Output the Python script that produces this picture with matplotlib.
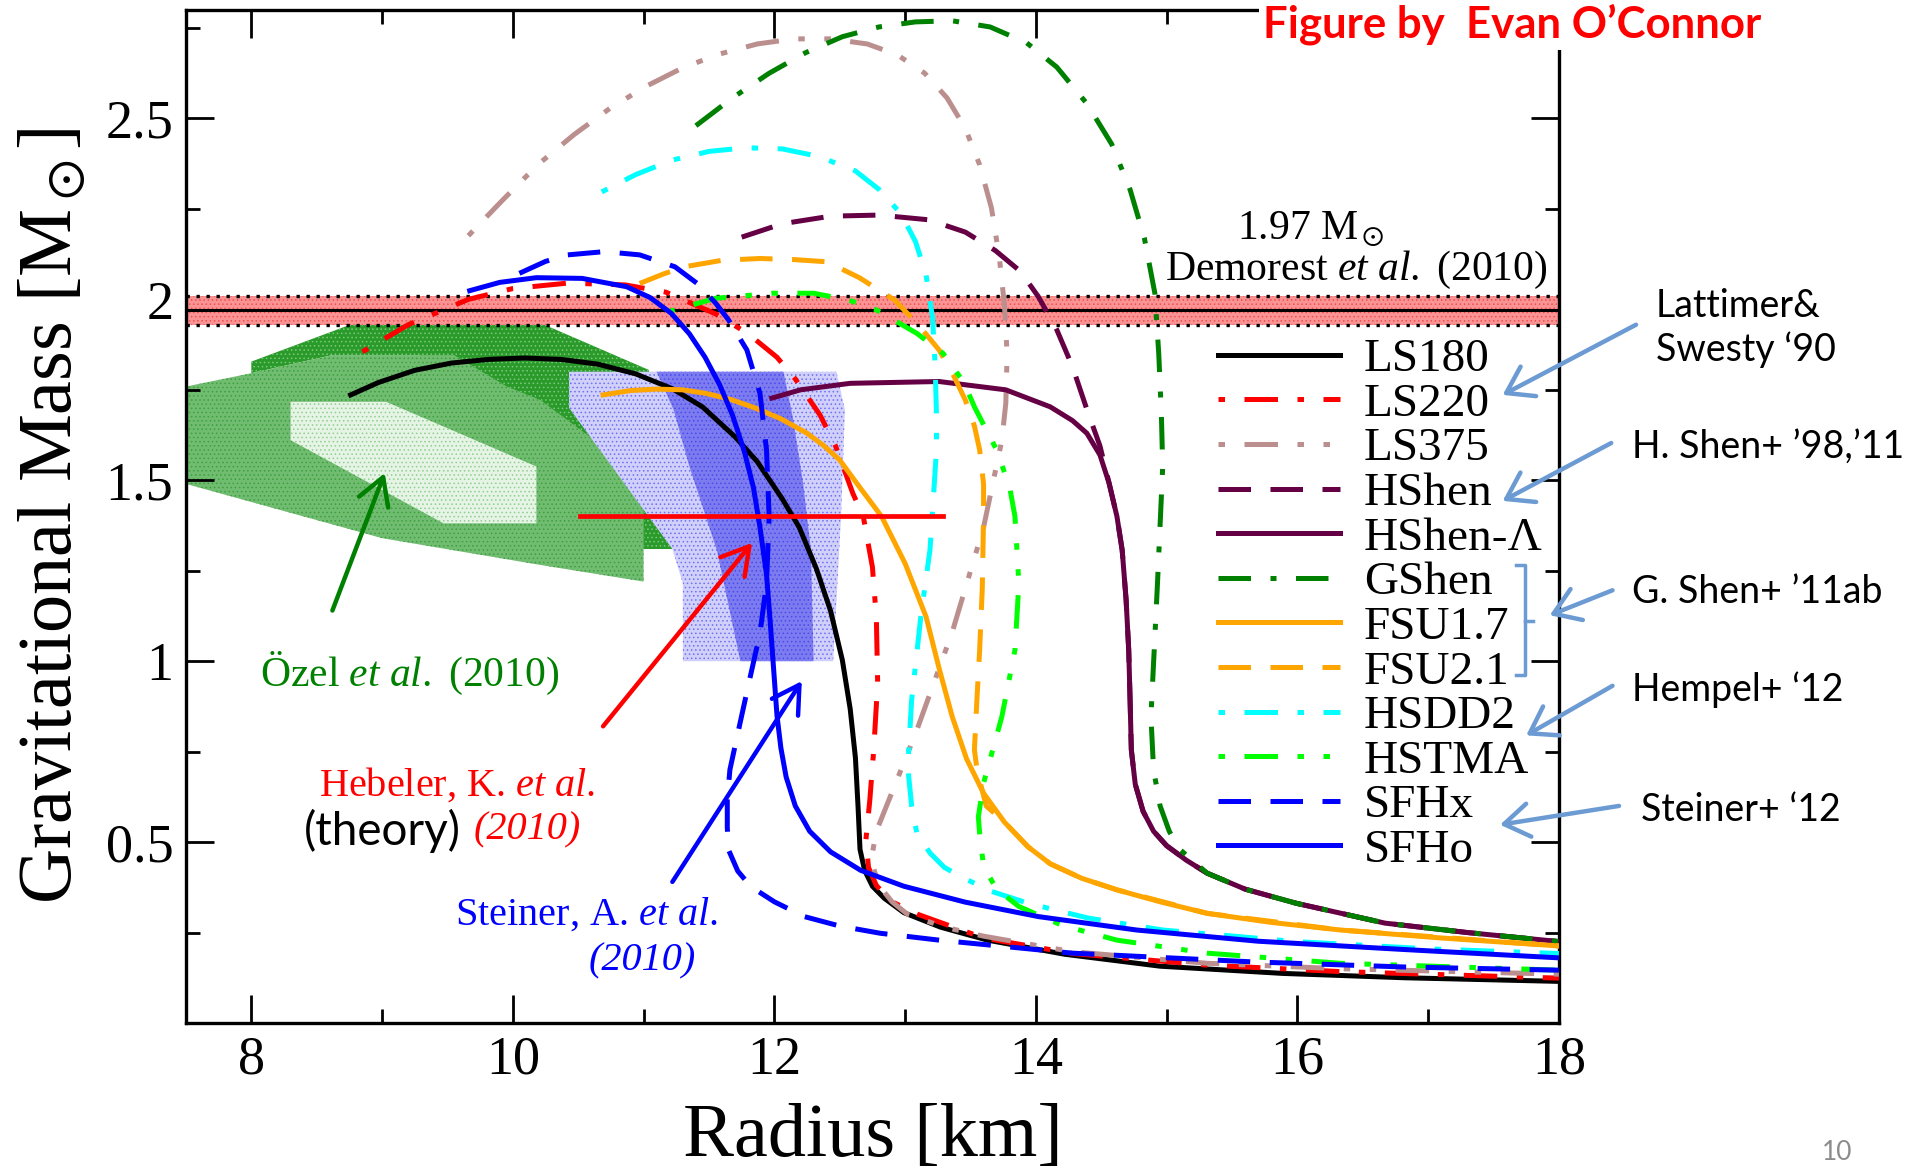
import matplotlib
matplotlib.use('Agg')
import matplotlib.pyplot as plt

plt.rcParams['font.family'] = ['Liberation Serif', 'DejaVu Serif']
plt.rcParams['mathtext.fontset'] = 'custom'
plt.rcParams['mathtext.rm'] = 'Liberation Serif'
plt.rcParams['mathtext.it'] = 'Liberation Serif:italic'
plt.rcParams['mathtext.bf'] = 'Liberation Serif:bold'
plt.rcParams['mathtext.fallback'] = 'stix'
plt.rcParams['hatch.linewidth'] = 0.6

# ---- mass-radius curves (R in km, M in solar masses) ----
ls180_R = [8.76, 8.97, 9.25, 9.53, 9.81, 10.09, 10.37, 10.65, 10.94, 11.22, 11.45, 11.70, 11.87, 12.06, 12.19,
           12.32, 12.43, 12.52, 12.58, 12.62, 12.64, 12.655, 12.69, 12.75, 12.84, 12.99, 13.27, 13.63, 14.22,
           14.95, 15.89, 16.82, 18.0]
ls180_M = [1.736, 1.770, 1.804, 1.824, 1.834, 1.838, 1.834, 1.821, 1.794, 1.753, 1.703, 1.62, 1.551, 1.449, 1.37,
           1.257, 1.139, 1.003, 0.868, 0.733, 0.598, 0.48, 0.422, 0.378, 0.345, 0.305, 0.265, 0.229, 0.19,
           0.157, 0.137, 0.125, 0.115]

ls220_R = [8.85, 9.2, 9.66, 10.0, 10.42, 10.86, 11.17, 11.55, 11.8, 12.02, 12.16, 12.35, 12.47, 12.6, 12.68, 12.75,
           12.78, 12.79, 12.76, 12.73, 12.70, 12.72, 12.78, 12.9, 13.1, 13.6, 14.28, 15.31, 16.33, 18.0]
ls220_M = [1.855, 1.93, 2.0, 2.03, 2.045, 2.04, 2.02, 1.96, 1.905, 1.84, 1.78, 1.68, 1.593, 1.464, 1.40, 1.26,
           1.12, 0.94, 0.755, 0.616, 0.506, 0.43, 0.38, 0.335, 0.30, 0.235, 0.192, 0.16, 0.142, 0.124]

ls375_R = [9.66, 9.91, 10.19, 10.47, 10.75, 11.03, 11.31, 11.59, 11.87, 12.15, 12.43, 12.71, 12.94, 13.15, 13.32,
           13.46, 13.57, 13.66, 13.72, 13.76, 13.78, 13.77, 13.74, 13.6, 13.36, 13.08, 12.88, 12.78, 12.74, 12.8,
           12.9, 13.02, 13.3, 13.6, 14.28, 15.31, 16.33, 18.0]
ls375_M = [2.176, 2.270, 2.372, 2.456, 2.530, 2.591, 2.642, 2.679, 2.706, 2.720, 2.720, 2.706, 2.676, 2.625, 2.557,
           2.473, 2.372, 2.253, 2.118, 1.983, 1.848, 1.713, 1.611, 1.37, 1.08, 0.80, 0.62, 0.53, 0.45, 0.38,
           0.335, 0.30, 0.265, 0.24, 0.197, 0.165, 0.15, 0.135]

hshen_R = [11.75, 12.06, 12.43, 12.80, 13.18, 13.46, 13.69, 13.88, 14.02, 14.16, 14.28, 14.39, 14.49, 14.56,
           14.62, 14.66, 14.69, 14.71, 14.72, 14.73, 14.76, 14.82, 14.9, 15.0, 15.15, 15.31, 15.6, 15.99, 16.67,
           17.3, 18.0]
hshen_M = [2.172, 2.209, 2.23, 2.233, 2.22, 2.186, 2.135, 2.078, 2.007, 1.916, 1.814, 1.696, 1.595, 1.492,
           1.40, 1.307, 1.17, 1.031, 0.9, 0.755, 0.66, 0.585, 0.53, 0.49, 0.45, 0.414, 0.37, 0.331, 0.276,
           0.25, 0.225]

hshenL_R = [11.98, 12.2, 12.58, 13.26, 13.77, 14.11, 14.28, 14.39, 14.49, 14.56, 14.62, 14.66, 14.69, 14.71,
            14.72, 14.73, 14.76, 14.82, 14.9, 15.0, 15.15, 15.31, 15.6, 15.99, 16.67, 17.3, 18.0]
hshenL_M = [1.727, 1.75, 1.768, 1.773, 1.75, 1.703, 1.665, 1.63, 1.57, 1.492, 1.40, 1.307, 1.17, 1.031,
            0.9, 0.755, 0.66, 0.585, 0.53, 0.49, 0.45, 0.414, 0.37, 0.331, 0.276, 0.25, 0.225]

gshen_R = [11.40, 11.68, 11.96, 12.24, 12.52, 12.80, 13.08, 13.36, 13.65, 13.93, 14.16, 14.39, 14.58, 14.72,
           14.83, 14.91, 14.94, 14.96, 14.97, 14.93, 14.88, 14.90, 14.95, 15.02, 15.10, 15.31, 15.6, 15.99,
           16.67, 17.3, 18.0]
gshen_M = [2.48, 2.557, 2.625, 2.682, 2.726, 2.753, 2.767, 2.770, 2.753, 2.709, 2.642, 2.541, 2.429, 2.304,
           2.169, 2.017, 1.848, 1.679, 1.538, 1.215, 0.847, 0.70, 0.60, 0.53, 0.48, 0.414, 0.37, 0.331,
           0.276, 0.25, 0.225]

fsu17_R = [10.69, 10.9, 11.10, 11.3, 11.48, 11.67, 11.86, 12.05, 12.25, 12.38, 12.50, 12.65, 12.82, 13.0, 13.16,
           13.26, 13.36, 13.47, 13.60, 13.76, 13.94, 14.11, 14.35, 14.62, 14.95, 15.31, 15.8, 16.33, 17.1, 18.0]
fsu17_M = [1.736, 1.748, 1.752, 1.75, 1.74, 1.723, 1.699, 1.67, 1.63, 1.595, 1.556, 1.482, 1.40, 1.27, 1.123,
           0.98, 0.847, 0.73, 0.635, 0.555, 0.487, 0.44, 0.40, 0.368, 0.335, 0.303, 0.278, 0.257, 0.235, 0.213]

fsu21_R = [10.97, 11.15, 11.31, 11.6, 11.89, 12.15, 12.40, 12.65, 12.92, 13.1, 13.26, 13.37, 13.46, 13.53, 13.57,
           13.60, 13.60, 13.59, 13.57, 13.55, 13.53, 13.55, 13.62, 13.76, 13.94, 14.11, 14.35, 14.62, 15.31,
           16.33, 18.0]
fsu21_M = [2.044, 2.07, 2.09, 2.108, 2.113, 2.11, 2.104, 2.06, 1.998, 1.93, 1.86, 1.79, 1.722, 1.65, 1.584,
           1.49, 1.40, 1.2, 1.031, 0.9, 0.755, 0.70, 0.60, 0.555, 0.487, 0.44, 0.40, 0.368, 0.303,
           0.257, 0.213]

hsdd2_R = [10.68, 10.94, 11.22, 11.50, 11.78, 12.06, 12.34, 12.62, 12.80, 12.97, 13.08, 13.16, 13.21, 13.23,
           13.24, 13.24, 13.19, 13.12, 13.05, 13.02, 13.05, 13.09, 13.19, 13.3, 13.43, 13.65, 13.94, 14.4,
           14.97, 15.99, 17.0, 18.0]
hsdd2_M = [2.297, 2.345, 2.385, 2.409, 2.419, 2.416, 2.395, 2.355, 2.304, 2.236, 2.159, 2.068, 1.949, 1.814,
           1.679, 1.584, 1.307, 1.123, 0.893, 0.708, 0.60, 0.524, 0.47, 0.43, 0.404, 0.365, 0.331, 0.29,
           0.257, 0.225, 0.205, 0.192]

hstma_R = [11.19, 11.55, 11.99, 12.30, 12.57, 12.78, 13.09, 13.29, 13.45, 13.53, 13.70, 13.80, 13.84, 13.87,
           13.84, 13.74, 13.60, 13.56, 13.57, 13.60, 13.7, 13.87, 14.2, 14.62, 15.31, 16.33, 18.0]
hstma_M = [1.966, 2.003, 2.017, 2.017, 1.998, 1.971, 1.906, 1.851, 1.77, 1.703, 1.584, 1.48, 1.40, 1.215,
           1.031, 0.847, 0.663, 0.57, 0.524, 0.432, 0.37, 0.322, 0.27, 0.229, 0.193, 0.165, 0.146]

sfhx_R = [10.05, 10.25, 10.42, 10.70, 10.97, 11.24, 11.41, 11.55, 11.65, 11.79, 11.89, 11.94, 11.96, 11.94,
          11.89, 11.81, 11.72, 11.66, 11.64, 11.64, 11.65, 11.72, 11.82, 12.0, 12.23, 12.5, 12.81, 13.26, 13.8,
          14.28, 15.65, 16.8, 18.0]
sfhx_M = [2.072, 2.105, 2.123, 2.132, 2.123, 2.09, 2.044, 1.99, 1.943, 1.86, 1.74, 1.584, 1.40, 1.215,
          1.077, 0.948, 0.80, 0.70, 0.616, 0.54, 0.478, 0.42, 0.377, 0.335, 0.294, 0.268, 0.248, 0.229, 0.21,
          0.193, 0.169, 0.155, 0.146]

sfho_R = [9.67, 9.9, 10.18, 10.53, 10.87, 11.05, 11.21, 11.35, 11.47, 11.58, 11.68, 11.77, 11.84, 11.89, 11.94,
          11.97, 12.0, 12.02, 12.05, 12.09, 12.16, 12.27, 12.43, 12.66, 12.99, 13.46, 14.02, 14.77, 15.70, 16.82,
          18.0]
sfho_M = [2.024, 2.047, 2.06, 2.058, 2.035, 2.005, 1.962, 1.905, 1.84, 1.765, 1.68, 1.58, 1.48, 1.37, 1.24,
          1.10, 0.95, 0.85, 0.76, 0.68, 0.60, 0.53, 0.473, 0.422, 0.378, 0.334, 0.294, 0.257, 0.226, 0.203,
          0.18]

# ---- observational / theoretical regions ----
ozel_dark_R = [8.0, 8.0, 9.09, 10.01, 11.04, 11.25, 11.22, 10.99, 10.99, 10.2, 9.28, 8.62, 8.0]
ozel_dark_M = [1.75, 1.828, 1.975, 1.966, 1.805, 1.5, 1.31, 1.31, 1.47, 1.72, 1.846, 1.846, 1.796]
ozel_mid_R = [7.5, 8.0, 8.62, 9.55, 9.95, 10.21, 10.59, 10.84, 11.0, 11.0, 10.21, 9.0, 7.5]
ozel_mid_M = [1.759, 1.796, 1.846, 1.846, 1.76, 1.722, 1.62, 1.556, 1.473, 1.22, 1.266, 1.34, 1.49]
ozel_in_R = [8.30, 9.03, 10.18, 10.18, 9.47, 8.30]
ozel_in_M = [1.717, 1.717, 1.538, 1.381, 1.381, 1.611]

steiner_out_R = [10.43, 12.475, 12.54, 12.51, 12.45, 11.30, 11.30, 11.22, 10.43]
steiner_out_M = [1.80, 1.80, 1.694, 1.40, 1.0, 1.0, 1.215, 1.31, 1.70]
steiner_in_R = [11.10, 12.07, 12.14, 12.22, 12.28, 12.30, 11.74, 11.56, 11.35, 11.23]
steiner_in_M = [1.80, 1.80, 1.676, 1.492, 1.307, 1.0, 1.0, 1.307, 1.538, 1.694]

hebeler_R = [10.51, 13.29]
hebeler_M = [1.40, 1.40]

demorest_M = 1.97
demorest_err = 0.04

# dash patterns (in units of line width)
dash = (0, (6.5, 3.9))
dotdash = (0, (1.3, 3.9, 6.7, 3.9))
dashdotdot = (0, (1.3, 3.9, 6.7, 3.9, 1.3, 3.9))
longdashdot = (0, (6.5, 3.9, 1.2, 3.9))

curves = [
    (ls180_R, ls180_M, 'LS180', 'black', '-'),
    (ls220_R, ls220_M, 'LS220', '#ff0000', dotdash),
    (ls375_R, ls375_M, 'LS375', '#bc8f8f', dashdotdot),
    (hshen_R, hshen_M, 'HShen', '#660044', dash),
    (hshenL_R, hshenL_M, 'HShen-Λ', '#660044', '-'),
    (gshen_R, gshen_M, 'GShen', '#008000', longdashdot),
    (fsu17_R, fsu17_M, 'FSU1.7', '#ffa500', '-'),
    (fsu21_R, fsu21_M, 'FSU2.1', '#ffa500', dash),
    (hsdd2_R, hsdd2_M, 'HSDD2', '#00ffff', dotdash),
    (hstma_R, hstma_M, 'HSTMA', '#00ff00', dashdotdot),
    (sfhx_R, sfhx_M, 'SFHx', '#0000ff', dash),
    (sfho_R, sfho_M, 'SFHo', '#0000ff', '-'),
]

fig = plt.figure(figsize=(19.17, 11.69), dpi=100)
ax = fig.add_axes([0.0970, 0.1249, 0.7162, 0.8666])

# shaded regions
ax.fill(ozel_dark_R, ozel_dark_M, facecolor='#2a9a2a', edgecolor='#7cc87c', hatch='....', lw=0, zorder=1)
ax.fill(ozel_mid_R, ozel_mid_M, facecolor='#70bc70', edgecolor='#3f9f3f', hatch='....', lw=0, zorder=1.1)
ax.fill(ozel_in_R, ozel_in_M, facecolor='#e6f4e6', edgecolor='#8fcf8f', hatch='....', lw=0, zorder=1.2)
ax.fill(steiner_out_R, steiner_out_M, facecolor='#d0d0fb', edgecolor='#7070f2', hatch='....', lw=0, zorder=1.3)
ax.fill(steiner_in_R, steiner_in_M, facecolor='#7c7cf0', edgecolor='#4a4aec', hatch='....', lw=0, zorder=1.4)

# Demorest et al. 1.97 +- 0.04
ax.axhspan(demorest_M - demorest_err, demorest_M + demorest_err, facecolor='#fa9494',
           edgecolor='#f05050', hatch='....', lw=0, zorder=2)
ax.axhline(demorest_M, color='black', lw=2.2, zorder=2.5)
for m in (demorest_M - demorest_err, demorest_M + demorest_err):
    ax.axhline(m, color='black', lw=2.4, ls=(0, (1, 2.0)), zorder=2.5)

for R, M, lab, col, ls in curves:
    ax.plot(R, M, color=col, ls=ls, lw=3.6, label=lab, zorder=3)

ax.plot(hebeler_R, hebeler_M, color='#ff0000', lw=3.4, zorder=3.5)

ax.set_xlim(7.5, 18)
ax.set_ylim(0, 2.8)
ax.set_xticks([8, 10, 12, 14, 16, 18])
ax.set_xticks([9, 11, 13, 15, 17], minor=True)
ax.set_yticks([0.5, 1, 1.5, 2, 2.5])
ax.set_yticklabels(['0.5', '1', '1.5', '2', '2.5'])
ax.set_yticks([0.25, 0.75, 1.25, 1.75, 2.25, 2.75], minor=True)
ax.tick_params(which='both', direction='in', top=True, right=True, width=2, labelsize=39, pad=9)
ax.tick_params(which='major', length=20)
ax.tick_params(which='minor', length=10)
for s in ax.spines.values():
    s.set_linewidth(2.4)

ax.set_xlabel('Radius [km]', fontsize=55)
ax.set_ylabel(r'Gravitational Mass [$\mathrm{M}_\odot$]', fontsize=55)
ax.xaxis.set_label_coords(0.5, -0.079)
ax.yaxis.set_label_coords(-0.071, 0.5)

ax.legend(loc='upper left', bbox_to_anchor=(0.752, 0.676), frameon=False, fontsize=34,
          handlelength=2.58, handletextpad=0.5, labelspacing=0.033, borderpad=0, borderaxespad=0)

arrow_kw = dict(shrinkA=0, shrinkB=0, mutation_scale=32, lw=3.2)

# annotations inside the axes
ax.text(9.21, 0.965, r'Özel $\mathit{et\ al.}$ (2010)', color='#008000', fontsize=30, ha='center', va='center')
ax.annotate('', xy=(9.02, 1.52), xytext=(8.62, 1.14),
            arrowprops=dict(arrowstyle='->, head_length=0.6, head_width=0.35', color='#008000', **arrow_kw),
            zorder=5)
ax.text(9.57, 0.658, r'Hebeler, K. $\mathit{et\ al.}$', color='#ff0000', fontsize=29, ha='center', va='center')
ax.text(8.40, 0.53, '(theory)', color='black', fontsize=33, family='Lato', ha='left', va='center')
ax.text(9.70, 0.535, '(2010)', color='#ff0000', fontsize=29, fontstyle='italic', ha='left', va='center')
ax.annotate('', xy=(11.83, 1.327), xytext=(10.69, 0.82),
            arrowprops=dict(arrowstyle='->, head_length=0.6, head_width=0.35', color='#ff0000', **arrow_kw),
            zorder=5)
ax.text(10.56, 0.2985, r'Steiner, A. $\mathit{et\ al.}$', color='#0000ff', fontsize=29, ha='center', va='center')
ax.text(10.99, 0.172, '(2010)', color='#0000ff', fontsize=29, fontstyle='italic', ha='center', va='center')
ax.annotate('', xy=(12.21, 0.945), xytext=(11.22, 0.39),
            arrowprops=dict(arrowstyle='->, head_length=0.6, head_width=0.35', color='#0000ff', **arrow_kw),
            zorder=5)
ax.text(16.1, 2.195, r'1.97 $\mathrm{M}_\odot$', fontsize=30, ha='center', va='center')
ax.text(16.45, 2.081, r'Demorest $\mathit{et\ al.}$ (2010)', fontsize=30, ha='center', va='center')

# notes to the right of the legend
note_col = '#6b9bd2'
notes = [
    (18.74, 1.921, 'Lattimer&\nSwesty ‘90'),
    (18.56, 1.592, 'H. Shen+ ’98,’11'),
    (18.56, 1.190, 'G. Shen+ ’11ab'),
    (18.56, 0.921, 'Hempel+ ‘12'),
    (18.63, 0.589, 'Steiner+ ‘12'),
]
for x, y, t in notes:
    ax.text(x, y, t, fontsize=27, family='Lato', ha='left', va='center', linespacing=1.25)

arrows = [
    ((17.57, 1.736), (18.59, 1.93)),
    ((17.57, 1.443), (18.40, 1.603)),
    ((17.93, 1.127), (18.41, 1.196)),
    ((17.75, 0.795), (18.41, 0.932)),
    ((17.55, 0.548), (18.46, 0.60)),
]
for head, tail in arrows:
    ax.annotate('', xy=head, xytext=tail, annotation_clip=False,
                arrowprops=dict(arrowstyle='->, head_length=0.6, head_width=0.4', color=note_col, lw=3.2,
                                mutation_scale=30, shrinkA=0, shrinkB=0))

ax.plot([17.67, 17.74, 17.74, 17.67], [1.265, 1.265, 0.961, 0.961], color=note_col, lw=2.5, clip_on=False)
ax.plot([17.74, 17.80], [1.11, 1.11], color=note_col, lw=2.5, clip_on=False)

fig.text(0.6588, 0.9675, 'Figure by  Evan O’Connor', color='#ff0000', fontsize=31.5, family='Lato',
         fontweight='bold', ha='left', va='baseline',
         bbox=dict(facecolor='white', edgecolor='none', pad=3))
fig.text(1837 / 1917, 1 - 1153 / 1169, '10', color='#8c8c8c', fontsize=19, family='Lato',
         ha='center', va='center')

fig.savefig('out.png', dpi=100)
